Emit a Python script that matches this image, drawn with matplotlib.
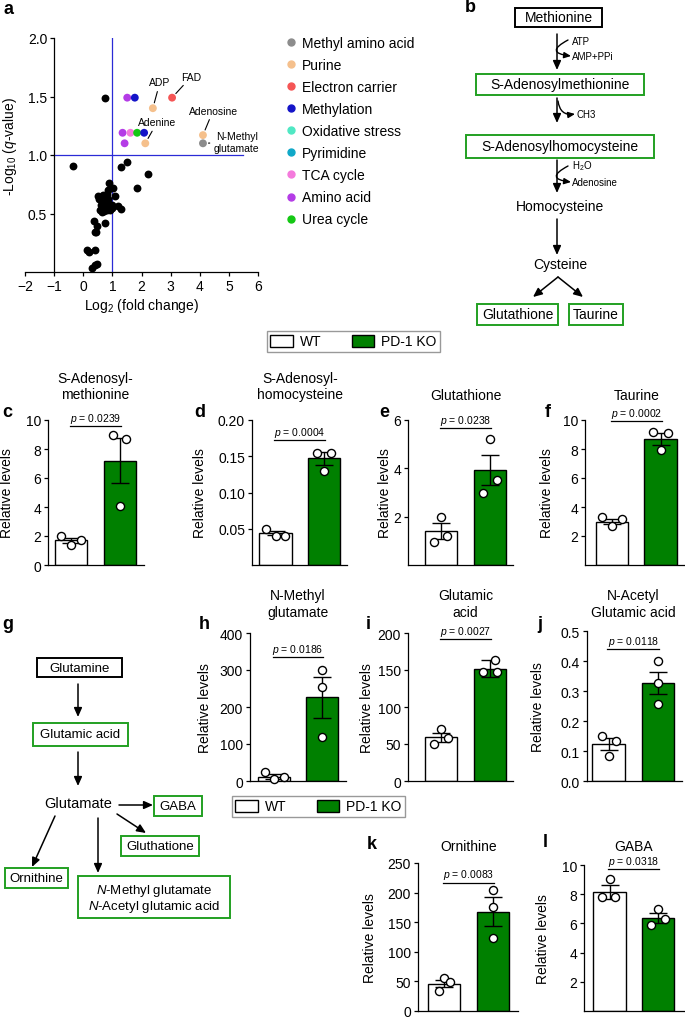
import numpy as np
import matplotlib
matplotlib.use('Agg')
import matplotlib.pyplot as plt
from matplotlib.patches import Rectangle, Patch
from matplotlib.lines import Line2D

plt.rcParams['font.family'] = ['Liberation Sans', 'DejaVu Sans']
plt.rcParams['mathtext.fontset'] = 'custom'
plt.rcParams['mathtext.rm'] = 'Liberation Sans'
plt.rcParams['mathtext.it'] = 'Liberation Sans:italic'
plt.rcParams['mathtext.bf'] = 'Liberation Sans:bold'
plt.rcParams['axes.linewidth'] = 0.9
plt.rcParams['xtick.major.size'] = 3
plt.rcParams['ytick.major.size'] = 3
plt.rcParams['xtick.major.width'] = 0.9
plt.rcParams['ytick.major.width'] = 0.9
plt.rcParams['xtick.major.pad'] = 2
plt.rcParams['ytick.major.pad'] = 2
plt.rcParams['xtick.labelsize'] = 10
plt.rcParams['ytick.labelsize'] = 10

# ---------------- data: panel a (volcano) ----------------
black_fc = [0.75, -0.34, 1.30, 1.50, 2.21, 1.85, 0.87, 1.03, 1.10, 0.51, 0.55, 0.62,
            0.66, 0.70, 0.74, 0.78, 0.82, 0.86, 0.90, 0.95, 1.00, 0.58, 0.64, 0.72,
            0.80, 0.88, 0.93, 0.98, 0.76, 1.20, 1.31, 0.37, 0.48, 0.40, 0.44, 0.75,
            0.14, 0.21, 0.40, 0.40, 0.30, 0.46, 0.68, 0.85]
black_q = [1.49, 0.91, 0.90, 0.94, 0.84, 0.72, 0.76, 0.72, 0.65, 0.65, 0.62, 0.57,
           0.53, 0.56, 0.60, 0.64, 0.67, 0.62, 0.58, 0.56, 0.57, 0.53, 0.51, 0.52,
           0.53, 0.54, 0.53, 0.55, 0.57, 0.56, 0.54, 0.44, 0.39, 0.34, 0.34, 0.42,
           0.19, 0.17, 0.19, 0.06, 0.03, 0.07, 0.66, 0.70]
col_fc = [1.51, 1.77, 3.05, 2.39, 1.35, 1.62, 1.85, 2.09, 1.42, 2.13, 4.11, 4.11]
col_q = [1.49, 1.49, 1.49, 1.40, 1.19, 1.19, 1.19, 1.19, 1.10, 1.10, 1.17, 1.10]
col_cat = ['Amino acid', 'Methylation', 'Electron carrier', 'Purine', 'Amino acid',
           'TCA cycle', 'Urea cycle', 'Methylation', 'Amino acid', 'Purine', 'Purine',
           'Methyl amino acid']
categories = ['Methyl amino acid', 'Purine', 'Electron carrier', 'Methylation',
              'Oxidative stress', 'Pyrimidine', 'TCA cycle', 'Amino acid', 'Urea cycle']
cat_colors = ['#8c8c8c', '#f5c08c', '#f55555', '#1414c8', '#50e8c4', '#10a8c8',
              '#f47adc', '#b43ce6', '#14c814']
annot_labels = ['FAD', 'ADP', 'Adenine', 'Adenosine', 'N-Methyl\nglutamate']
annot_index = [2, 3, 9, 10, 11]
xticks_a = [-2, -1, 0, 1, 2, 3, 4, 5, 6]
yticks_a = [0.5, 1.0, 1.5, 2.0]

# ---------------- data: bar panels ----------------
bar_letters = ['c', 'd', 'e', 'f', 'h', 'i', 'j', 'k', 'l']
bar_titles = ['S-Adenosyl-\nmethionine', 'S-Adenosyl-\nhomocysteine', 'Glutathione',
              'Taurine', 'N-Methyl\nglutamate', 'Glutamic\nacid',
              'N-Acetyl\nGlutamic acid', 'Ornithine', 'GABA']
wt_mean = [1.7, 0.044, 1.4, 3.0, 12, 59, 0.123, 46, 8.15]
wt_sem = [0.17, 0.003, 0.32, 0.17, 6, 6, 0.02, 6, 0.45]
ko_mean = [7.2, 0.147, 3.93, 8.7, 226, 152, 0.327, 168, 6.35]
ko_sem = [1.55, 0.009, 0.63, 0.4, 56, 11, 0.037, 24, 0.35]
wt_pts = [[2.0, 1.4, 1.7], [0.049, 0.040, 0.040], [2.0, 0.95, 1.2], [3.3, 2.7, 3.2],
          [25, 5, 12], [70, 50, 58], [0.15, 0.085, 0.133], [55.7, 34.5, 48.9],
          [9.05, 7.8, 7.8]]
ko_pts = [[9.0, 8.7, 4.1], [0.155, 0.155, 0.130], [5.2, 3.0, 3.5], [9.2, 9.1, 7.9],
          [300, 255, 118], [163, 147, 147], [0.40, 0.328, 0.258], [205, 176, 123],
          [7.0, 5.9, 6.3]]
p_values = ['0.0239', '0.0004', '0.0238', '0.0002', '0.0186', '0.0027', '0.0118',
            '0.0083', '0.0318']
p_line_y = [9.59, 0.172, 5.67, 9.93, 335, 192, 0.44, 217, 9.73]
y_max = [10, 0.2, 6, 10, 400, 200, 0.5, 250, 10]
y_ticks = [[0, 2, 4, 6, 8, 10], [0.05, 0.10, 0.15, 0.20], [2, 4, 6], [2, 4, 6, 8, 10],
           [0, 100, 200, 300, 400], [0, 50, 100, 150, 200],
           [0.0, 0.1, 0.2, 0.3, 0.4, 0.5], [0, 50, 100, 150, 200, 250],
           [2, 4, 6, 8, 10]]
y_ticklabels = [['0', '2', '4', '6', '8', '10'], ['0.05', '0.10', '0.15', '0.20'],
                ['2', '4', '6'], ['2', '4', '6', '8', '10'],
                ['0', '100', '200', '300', '400'], ['0', '50', '100', '150', '200'],
                ['0.0', '0.1', '0.2', '0.3', '0.4', '0.5'],
                ['0', '50', '100', '150', '200', '250'], ['2', '4', '6', '8', '10']]
groups = ['WT', 'PD-1 KO']
group_colors = ['white', '#008000']

# ---------------- layout ----------------
W, H = 685, 1020
fig = plt.figure(figsize=(W / 100, H / 100), dpi=100)


def rect(l, t, r, b):
    return [l / W, 1 - b / H, (r - l) / W, (b - t) / H]


def fx(x):
    return x / W


def fy(y):
    return 1 - y / H


# overlay for diagrams / labels
ov = fig.add_axes([0, 0, 1, 1])
ov.set_xlim(0, W)
ov.set_ylim(H, 0)
ov.axis('off')
ov.patch.set_alpha(0)

ARW = '-|>,head_length=0.45,head_width=0.2'


def arrow(x1, y1, x2, y2, rad=0.0, lw=1.1):
    ov.annotate('', xy=(x2, y2), xytext=(x1, y1),
                arrowprops=dict(arrowstyle=ARW, color='k', lw=lw, shrinkA=0, shrinkB=0,
                                mutation_scale=12,
                                connectionstyle=f'arc3,rad={rad}'))


def box(l, t, r, b, ec='#22a022'):
    ov.add_patch(Rectangle((l, t), r - l, b - t, fill=False, ec=ec, lw=1.4))


def txt(x, y, s, size=10, ha='center', va='center', **kw):
    ov.text(x, y, s, fontsize=size, ha=ha, va=va, **kw)


# panel letters
for lab, x, y in [('a', 9, 10), ('b', 470, 8), ('c', 7, 413), ('d', 200, 413),
                  ('e', 384, 413), ('f', 548, 413), ('g', 8, 625), ('h', 204, 625),
                  ('i', 368, 625), ('j', 540, 625), ('k', 372, 845), ('l', 545, 843)]:
    txt(x, y, lab, size=13, weight='bold')

# ---------------- panel a ----------------
axA = fig.add_axes(rect(25, 39, 258, 273))
axA.set_xlim(-2, 6)
axA.set_ylim(0, 2)
axA.spines['left'].set_position(('data', -1))
axA.spines['top'].set_visible(False)
axA.spines['right'].set_visible(False)
axA.set_xticks(xticks_a)
axA.set_yticks(yticks_a)
axA.set_yticklabels([f'{v:.1f}' for v in yticks_a])
axA.plot([1, 1], [0, 2], color='#2b2bd6', lw=0.9, zorder=1)
axA.plot([-1, 5.5], [1, 1], color='#2b2bd6', lw=0.9, zorder=1, clip_on=False)
axA.scatter(black_fc, black_q, s=32, c='k', zorder=3, clip_on=False, lw=0)
cmap = dict(zip(categories, cat_colors))
axA.scatter(col_fc, col_q, s=32, c=[cmap[c] for c in col_cat], zorder=4, lw=0)
axA.set_xlabel('Log$_2$ (fold change)', fontsize=10, labelpad=2)
axA.set_ylabel('-Log$_{10}$ ($q$-value)', fontsize=10, va='center')
axA.yaxis.set_label_coords((10 - 25) / 233, (273 - 147) / 234)
annot_pos = [(3.71, 1.67), (2.63, 1.62), (2.54, 1.28), (4.46, 1.38), (5.27, 1.11)]
for lab, idx, pos in zip(annot_labels, annot_index, annot_pos):
    axA.annotate(lab, xy=(col_fc[idx], col_q[idx]), xytext=pos, fontsize=7.5,
                 ha='center', va='center', multialignment='center',
                 arrowprops=dict(arrowstyle='-', color='k', lw=0.8, shrinkA=1, shrinkB=4),
                 annotation_clip=False)

handles = [Line2D([], [], marker='o', ls='', markerfacecolor=c, markeredgecolor=c,
                  markersize=5) for c in cat_colors]
fig.legend(handles, categories, loc='upper left', bbox_to_anchor=(fx(286), fy(37)),
           frameon=False, fontsize=10, handlelength=0.7, handletextpad=0.45,
           labelspacing=0.58, borderpad=0, borderaxespad=0)

# ---------------- panel b diagram ----------------
box(515, 9, 602, 28, ec='k')
txt(558.5, 18.5, 'Methionine')
arrow(557, 35, 557, 71)
ov.annotate('', xy=(571, 57), xytext=(568, 41),
            arrowprops=dict(arrowstyle=ARW, color='k', lw=1.0, shrinkA=0, shrinkB=0,
                            mutation_scale=9, connectionstyle='arc3,rad=1.6'))
txt(572, 42, 'ATP', size=7, ha='left')
txt(572, 57, 'AMP+PPi', size=7, ha='left')
box(476, 75, 644, 96)
txt(560, 85.5, 'S-Adenosylmethionine')
arrow(557, 99, 557, 124)
ov.annotate('', xy=(575, 115), xytext=(558, 102),
            arrowprops=dict(arrowstyle=ARW, color='k', lw=1.0, shrinkA=0, shrinkB=0,
                            mutation_scale=9, connectionstyle='arc3,rad=0.5'))
txt(577, 115, 'CH3', size=7, ha='left')
box(466, 136, 654, 159)
txt(560, 147.5, 'S-Adenosylhomocysteine')
arrow(557, 161, 557, 194)
ov.annotate('', xy=(571, 183), xytext=(568, 167),
            arrowprops=dict(arrowstyle=ARW, color='k', lw=1.0, shrinkA=0, shrinkB=0,
                            mutation_scale=9, connectionstyle='arc3,rad=1.6'))
txt(572, 166, 'H$_2$O', size=7, ha='left')
txt(572, 183, 'Adenosine', size=7, ha='left')
txt(560, 207, 'Homocysteine')
arrow(557, 220, 557, 256)
txt(560, 265, 'Cysteine')
arrow(558, 278, 533, 298)
arrow(558, 278, 583, 298)
box(477, 305, 558, 326)
txt(517.5, 315.5, 'Glutathione')
box(569, 305, 623, 326)
txt(596, 315.5, 'Taurine')

# ---------------- panel g diagram ----------------
box(37, 659, 122, 678, ec='k')
txt(79.5, 669, 'Glutamine', size=9.5)
arrow(78, 685, 78, 718)
box(33, 724, 128, 747)
txt(80.5, 735.5, 'Glutamic acid', size=9.5)
arrow(78, 753, 78, 787)
txt(78, 804, 'Glutamate', size=10.5)
arrow(119, 806, 153, 806)
box(154, 797, 202, 817)
txt(178, 807, 'GABA', size=9.5)
arrow(117, 815, 146, 834)
box(121, 837, 199, 857)
txt(160, 847, 'Gluthatione', size=9.5)
arrow(98, 819, 98, 874)
arrow(55, 817, 32, 868)
box(5, 869, 68, 889)
txt(36.5, 879, 'Ornithine', size=9.5)
box(78, 877, 230, 919)
txt(154, 891, '$N$-Methyl glutamate', size=9.5)
txt(154, 907, '$N$-Acetyl glutamic acid', size=9.5)

# ---------------- WT / KO legends ----------------
patches = [Patch(facecolor=c, edgecolor='k', lw=1) for c in group_colors]
for (lx, ly) in [(267, 332), (232, 797)]:
    leg = fig.legend(patches, groups, ncol=2, loc='upper left',
                     bbox_to_anchor=(fx(lx), fy(ly)), frameon=True, fancybox=False,
                     edgecolor='#999999', fontsize=10, handlelength=1.6,
                     handleheight=0.95, handletextpad=0.5, columnspacing=2.2,
                     borderpad=0.25, borderaxespad=0, framealpha=1)
    leg.get_frame().set_linewidth(1)

# ---------------- bar panels ----------------
bar_layout = [  # l, t, r, b, center1, center2 (pixels), ylabel x, title y
    (48, 421, 144, 566, 71, 120, 7, 387),
    (252, 421, 347, 566, 275.5, 324, 200, 387),
    (408, 421, 513, 566, 441, 490, 385, 396),
    (585, 421, 685, 566, 612, 660.5, 547, 396),
    (250, 634, 346, 782, 274, 322, 205, 604.5),
    (408, 634, 513, 782, 441, 490, 367, 604.5),
    (587, 632, 682, 782, 608.5, 658, 538, 604.5),
    (418, 864, 518, 1012, 444, 493, 370, 847),
    (584, 866, 685, 1012, 609.5, 658, 543, 847),
]
wt_off = [[-0.2, 0, 0.2], [-0.19, 0, 0.2], [0, -0.15, 0.12], [-0.2, 0, 0.2],
          [-0.19, 0, 0.2], [0, -0.15, 0.15], [-0.13, 0, 0.15], [0, -0.1, 0.12],
          [0, -0.16, 0.11]]
ko_off = [[-0.15, 0.12, 0], [-0.14, 0.14, 0], [0, -0.15, 0.15], [-0.15, 0.15, 0],
          [0, 0, 0], [0.1, -0.15, 0.15], [0, 0, 0], [0, 0, 0], [0, -0.15, 0.14]]

for i in range(len(bar_titles)):
    l, t, r, b, c1, c2, ylx, ty = bar_layout[i]
    ax = fig.add_axes(rect(l, t, r, b))
    u = c2 - c1
    ax.set_xlim((l - c1) / u, (r - c1) / u)
    ax.set_ylim(0, y_max[i])
    ax.spines['top'].set_visible(False)
    ax.spines['right'].set_visible(False)
    ax.set_xticks([])
    ax.set_yticks(y_ticks[i])
    ax.set_yticklabels(y_ticklabels[i])
    ax.bar([0, 1], [wt_mean[i], ko_mean[i]], width=0.66, color=group_colors,
           edgecolor='k', lw=1, zorder=2)
    ax.errorbar([0, 1], [wt_mean[i], ko_mean[i]], yerr=[wt_sem[i], ko_sem[i]],
                fmt='none', ecolor='k', elinewidth=1, capsize=6.5, capthick=1, zorder=3)
    ax.scatter(np.array(wt_off[i]), wt_pts[i], s=34, facecolor='white',
               edgecolor='k', lw=1, zorder=4, clip_on=False)
    ax.scatter(1 + np.array(ko_off[i]), ko_pts[i], s=34, facecolor='white',
               edgecolor='k', lw=1, zorder=4, clip_on=False)
    ax.plot([-0.03, 1.03], [p_line_y[i], p_line_y[i]], color='k', lw=0.9,
            clip_on=False)
    ax.annotate(f'$p$ = {p_values[i]}', xy=(0.5, p_line_y[i]), xytext=(0, 1),
                textcoords='offset points', ha='center', va='bottom', fontsize=7.5,
                annotation_clip=False)
    ax.set_ylabel('Relative levels', fontsize=10, va='center')
    ax.yaxis.set_label_coords((ylx - l) / (r - l), 0.5)
    txt((c1 + c2) / 2, ty, bar_titles[i], size=10, linespacing=1.2)

fig.savefig('out.png', dpi=100)
